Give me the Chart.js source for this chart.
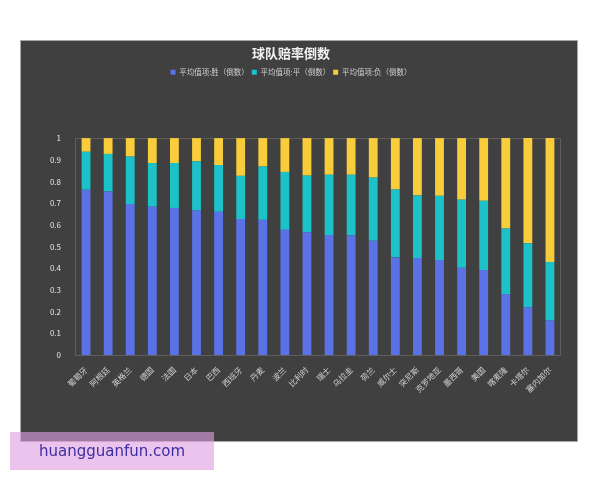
<!DOCTYPE html>
<html>
<head>
<meta charset="utf-8">
<script src="https://cdn.jsdelivr.net/npm/chart.js@4.4.0/dist/chart.umd.min.js"></script>
<style>
  html, body { margin: 0; padding: 0; background: #fff; }
  body { width: 600px; height: 480px; position: relative; overflow: hidden; }
  #panel {
    position: absolute; left: 20px; top: 40px; width: 558px; height: 402px;
    box-sizing: border-box; background: #404040; border: 1px solid #a8a8a8;
  }
  #mark {
    position: absolute; left: 10px; top: 432px; width: 204px; height: 38px;
    background: rgba(223, 158, 224, 0.62); color: #3b2fa0;
    font: 15px "DejaVu Sans", sans-serif; line-height: 38px; text-align: center;
  }
</style>
</head>
<body>
<div id="panel"><canvas id="oddsChart"></canvas></div>
<div id="mark">huangguanfun.com</div>
<script>
const teams = ['葡萄牙', '阿根廷', '英格兰', '德国', '法国', '日本', '巴西', '西班牙', '丹麦', '波兰', '比利时',
    '瑞士', '乌拉圭', '荷兰', '威尔士', '突尼斯', '克罗地亚', '墨西哥', '美国', '喀麦隆', '卡塔尔', '塞内加尔'];
const winInv = [0.762, 0.754, 0.696, 0.684, 0.678, 0.666, 0.660, 0.627, 0.623, 0.577, 0.566,
    0.553, 0.551, 0.527, 0.450, 0.447, 0.438, 0.402, 0.392, 0.281, 0.220, 0.159];
const drawInv = [0.175, 0.173, 0.219, 0.201, 0.207, 0.227, 0.216, 0.199, 0.246, 0.267, 0.261,
    0.278, 0.280, 0.291, 0.313, 0.289, 0.296, 0.314, 0.319, 0.302, 0.295, 0.270];
const loseInv = [0.063, 0.073, 0.085, 0.115, 0.115, 0.107, 0.124, 0.174, 0.131, 0.156, 0.173,
    0.169, 0.169, 0.182, 0.237, 0.264, 0.266, 0.284, 0.289, 0.417, 0.485, 0.571];
const seriesNames = ['平均值项:胜（倒数）', '平均值项:平（倒数）', '平均值项:负（倒数）'];

const cjk = '"Noto Sans CJK SC", "Noto Sans", sans-serif';

// thin frame round the plot area
const frame = {
    id: 'frame',
    beforeDatasetsDraw(chart) {
        const a = chart.chartArea, c = chart.ctx;
        c.save();
        c.strokeStyle = '#5e5e5e';
        c.lineWidth = 1;
        c.strokeRect(a.left + 0.5, a.top + 0.5, a.right - a.left - 1, a.bottom - a.top);
        c.restore();
    }
};

// extra room under the legend
const legendGap = {
    id: 'legendGap',
    beforeInit(chart) {
        const fit = chart.legend.fit;
        chart.legend.fit = function() {
            fit.bind(chart.legend)();
            this.height += 52;
        };
    }
};

document.addEventListener('DOMContentLoaded', function() {
    const ctx = document.getElementById('oddsChart').getContext('2d');
    new Chart(ctx, {
        type: 'bar',
        data: {
            labels: teams,
            datasets: [
                { label: seriesNames[0], data: winInv, backgroundColor: '#5a72e6' },
                { label: seriesNames[1], data: drawInv, backgroundColor: '#1dc2c9' },
                { label: seriesNames[2], data: loseInv, backgroundColor: '#f9cc3b' }
            ]
        },
        plugins: [frame, legendGap],
        options: {
            responsive: true,
            maintainAspectRatio: false,
            animation: false,
            datasets: { bar: { categoryPercentage: 1, barPercentage: 0.4 } },
            layout: { padding: { top: 2, right: 16, left: 0, bottom: 0 } },
            plugins: {
                title: {
                    display: true,
                    text: '球队赔率倒数',
                    color: '#f2f2f2',
                    font: { family: cjk, size: 13, weight: 'bold' },
                    padding: { top: 2, bottom: 5 }
                },
                legend: {
                    position: 'top',
                    labels: {
                        color: '#d0d0d0',
                        font: { family: cjk, size: 7.5 },
                        boxWidth: 5,
                        boxHeight: 5,
                        padding: 3
                    }
                },
                tooltip: { enabled: false }
            },
            scales: {
                x: {
                    stacked: true,
                    grid: { display: false },
                    border: { display: false },
                    ticks: {
                        color: '#d0d0d0',
                        font: { family: cjk, size: 8 },
                        minRotation: 45,
                        maxRotation: 45,
                        autoSkip: false,
                        padding: 2
                    },
                    afterFit: function(scale) { scale.height = 86; }
                },
                y: {
                    stacked: true,
                    min: 0,
                    max: 1,
                    grid: { display: false },
                    border: { display: false },
                    ticks: {
                        stepSize: 0.1,
                        color: '#e6e6e6',
                        font: { family: cjk, size: 8 },
                        padding: 6,
                        callback: function(v) { return String(Math.round(v * 10) / 10); }
                    },
                    afterFit: function(scale) { scale.width = 54; }
                }
            }
        }
    });
});
</script>
</body>
</html>
